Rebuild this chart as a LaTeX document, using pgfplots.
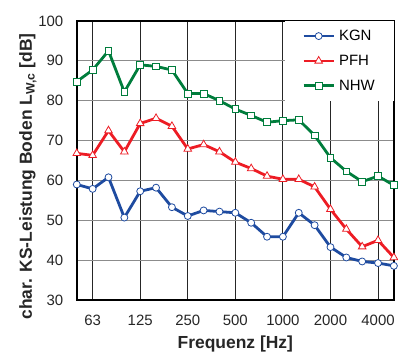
\documentclass[border=0pt]{standalone}
\usepackage{pgfplots}
\pgfplotsset{compat=1.18}
\usepackage{fontspec}
\setmainfont{Liberation Sans}
\definecolor{cblue}{RGB}{30,75,160}
\definecolor{cred}{RGB}{237,28,36}
\definecolor{cgreen}{RGB}{0,125,60}
\begin{document}
\begin{tikzpicture}
\begin{axis}[
  name=ax,
  scale only axis,
  width=318pt, height=280pt,
  xmin=0, xmax=20, ymin=30, ymax=100,
  xtick={1,4,7,10,13,16,19},
  xticklabels={63,125,250,500,1000,2000,4000},
  ytick={30,40,...,100},
  /pgf/number format/assume math mode=true,
  tick label style={font=\fontsize{15}{17}\selectfont, text=black!85},
  xticklabel style={yshift=-11pt},
  yticklabel style={xshift=-10pt},
  major tick length=0pt,
  axis line style={line width=2.5pt},
  grid=major,
  x grid style={black!85, line width=0.9pt},
  y grid style={black!45, line width=1.2pt},
  xlabel={\bfseries Frequenz [Hz]},
  ylabel={\bfseries char. KS-Leistung Boden L\textsubscript{W,c} [dB]},
  label style={font=\fontsize{17.5}{20}\selectfont, text=black!85},
  xlabel style={yshift=-4pt},
  ylabel style={yshift=-5pt, xshift=-16pt},
  legend style={at={(1,1)}, anchor=north east, draw=none, fill=white,
    font=\fontsize{15}{17}\selectfont, row sep=9pt, column sep=2pt,
    inner xsep=17pt, inner ysep=7pt,
    nodes={inner sep=2pt},
    cells={anchor=west}},
  legend cell align=left,
  legend image code/.code={\draw[mark repeat=2,mark phase=2] plot coordinates {(0pt,0pt)(15pt,0pt)(30pt,0pt)};},
  legend image post style={line width=2.8pt},
]
\addplot[cblue, line width=2.8pt, mark=*, mark size=3.5pt, mark options={fill=white, line width=0.8pt}]
coordinates {(0,59)(1,57.9)(2,60.8)(3,50.7)(4,57.3)(5,58.2)(6,53.3)(7,51.1)(8,52.5)(9,52.2)(10,51.9)(11,49.4)(12,45.9)(13,45.9)(14,51.9)(15,48.8)(16,43.3)(17,40.7)(18,39.7)(19,39.3)(20,38.6)};
\addlegendentry{KGN}
\addplot[cred, line width=2.8pt, mark=triangle*, mark size=4.4pt, mark options={fill=white, line width=0.8pt}]
coordinates {(0,66.8)(1,66.3)(2,72.5)(3,67.2)(4,74.3)(5,75.6)(6,73.6)(7,67.9)(8,69)(9,67.2)(10,64.6)(11,63)(12,61.1)(13,60.3)(14,60.3)(15,58.4)(16,52.8)(17,47.8)(18,43.4)(19,45)(20,40.7)};
\addlegendentry{PFH}
\addplot[cgreen, line width=2.8pt, mark=square*, mark size=3.4pt, mark options={fill=white, line width=0.8pt}]
coordinates {(0,84.8)(1,87.7)(2,92.5)(3,82.2)(4,89)(5,88.6)(6,87.7)(7,81.8)(8,81.8)(9,80)(10,77.9)(11,76.3)(12,74.6)(13,75)(14,75.2)(15,71.3)(16,65.7)(17,62.3)(18,59.7)(19,61.1)(20,58.8)};
\addlegendentry{NHW}
\end{axis}
\path (ax.south west) ++(-77pt,-57pt) rectangle ([shift={(3pt,21pt)}]ax.north east);
\end{tikzpicture}
\end{document}
